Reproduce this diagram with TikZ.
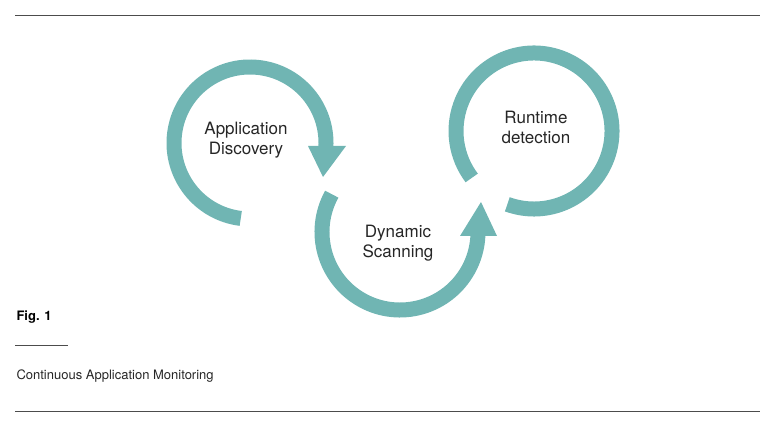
\documentclass[tikz,border=0pt]{standalone}
\usepackage{fontspec}
\setmainfont{TeX Gyre Heros}
\definecolor{teal1}{HTML}{70B5B3}
\begin{document}
\begin{tikzpicture}[x=1pt,y=1pt,
  ring/.style={draw=teal1,line width=15pt},
  head/.style={fill=teal1},
  lbl/.style={align=center,font=\fontsize{17}{20}\selectfont,text=black!85},
  rule/.style={draw=black!70,line width=0.6pt}]
\useasboundingbox (0,0) rectangle (775,430);
% top/bottom rules
\coordinate (tl) at (15,415); \coordinate (tr) at (760,415);
\coordinate (bl) at (15,19); \coordinate (br) at (760,19);
\draw[rule] (tl) -- (tr);
\draw[rule] (bl) -- (br);
% circle 1
\coordinate (c1) at (250,287);
\draw[ring] (c1) ++(263:76) arc[start angle=263,end angle=-3,radius=76];
\fill[head] (308,284) -- (346,284) -- (323,253) -- cycle;
% circle 2
\coordinate (c2) at (400,198);
\draw[ring] (c2) ++(151:78) arc[start angle=151,end angle=358,radius=78];
\fill[head] (460,194) -- (497,194) -- (481,228) -- cycle;
% circle 3
\coordinate (c3) at (534,299);
\draw[ring] (c3) ++(250:78) arc[start angle=250,end angle=577,radius=78];
% labels
\node[lbl] (a) at (246,290) {Application\\Discovery};
\node[lbl] (d) at (398,187) {Dynamic\\Scanning};
\node[lbl] (r) at (536,303) {Runtime\\detection};
% caption
\node[anchor=west,font=\bfseries\fontsize{13}{15}\selectfont] (fig) at (13,113) {Fig. 1};
\coordinate (s1) at (15,85); \coordinate (s2) at (68,85);
\draw[rule] (s1) -- (s2);
\node[anchor=west,font=\fontsize{13}{15}\selectfont,text=black!85] (cap) at (13,54) {Continuous Application Monitoring};
\end{tikzpicture}
\end{document}
